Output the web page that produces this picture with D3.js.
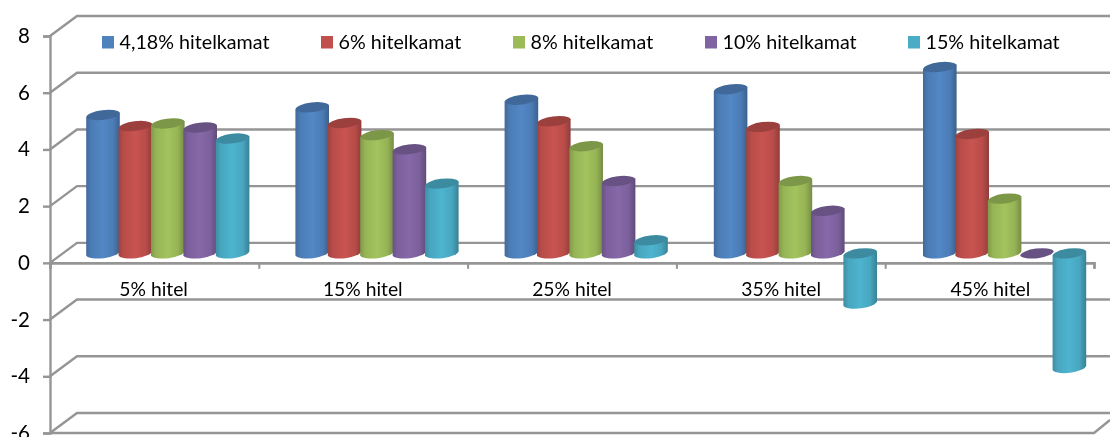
<!DOCTYPE html>
<html><head><meta charset="utf-8">
<script src="https://d3js.org/d3.v7.min.js"></script>
<style>html,body{margin:0;padding:0;background:#fff;overflow:hidden}svg{display:block}text{font-family:Lato,"Open Sans",sans-serif;fill:#000}</style>
</head><body><svg id="c" width="1110" height="437"></svg>
<script>
const categories = ["5% hitel","15% hitel","25% hitel","35% hitel","45% hitel"];
const seriesNames = ["4,18% hitelkamat","6% hitelkamat","8% hitelkamat","10% hitelkamat","15% hitelkamat"];
const s418 = [4.88,5.15,5.42,5.79,6.57];
const s6 = [4.49,4.60,4.66,4.46,4.21];
const s8 = [4.58,4.17,3.78,2.55,1.93];
const s10 = [4.44,3.67,2.55,1.50,-0.05];
const s15 = [4.05,2.46,0.46,-1.77,-4.04];
const seriesValues = [s418,s6,s8,s10,s15];
const yTicks = [-6,-4,-2,0,2,4,6,8];
const baseColors = ["#4f81bd","#c0504d","#9bbb59","#8064a2","#4bacc6"];
const legendX = [102,321,513,705,908];

const svg = d3.select("#c"), gridColor = "#959595";
const y = d3.scaleLinear().domain([-6,8]).range([433,36]);
const x0 = d3.scaleBand().domain(categories).range([50,1096]);
const x1 = d3.scaleBand().domain(seriesNames).range([36.8,198.8]);
const depthX = 27, depthY = -20, midY = -9.5;

const defs = svg.append("defs");
baseColors.forEach((c,i)=>{
  const g = defs.append("linearGradient").attr("id","g"+i);
  const col = d3.color(c);
  [[0,col.darker(0.55)],[0.15,col.darker(0.1)],[0.5,col.brighter(0.12)],[0.8,col.darker(0.1)],[1,col.darker(0.8)]]
   .forEach(([o,k])=>g.append("stop").attr("offset",o).attr("stop-color",k));
});
const blur = defs.append("filter").attr("id","soft").attr("x","-5%").attr("y","-5%").attr("width","110%").attr("height","110%");
blur.append("feGaussianBlur").attr("stdDeviation",0.4);

const root = svg.append("g").attr("filter","url(#soft)");
const grid = root.append("g").attr("fill","none").attr("stroke",gridColor).attr("stroke-width",2.4);
yTicks.forEach(t=>{
  grid.append("path").attr("d",`M50,${y(t)}L${50+depthX},${y(t)+depthY}L1110,${y(t)+depthY}`);
});
grid.append("path").attr("d",`M50,${y(-6)}L1094,${y(-6)}L1110,${y(-6)-13}`);

const yAxis = root.append("g").attr("transform","translate(50,0)")
  .call(d3.axisLeft(y).tickValues(yTicks).tickSize(7).tickPadding(13).tickFormat(d=>String(d)));
yAxis.selectAll("line,path").attr("stroke",gridColor).attr("stroke-width",2.4);
yAxis.selectAll("text").attr("font-size",20.5).style("font-family","Lato").attr("fill","#000");

const xPos = d3.scalePoint().domain(d3.range(6)).range([50,1094]);
const xAxis = root.append("g").attr("transform",`translate(0,${y(0)})`)
  .call(d3.axisBottom(xPos).tickSize(6).tickFormat(""));
xAxis.selectAll("line").attr("stroke",gridColor).attr("stroke-width",2);
xAxis.select("path").attr("stroke",gridColor).attr("stroke-width",2.6);

root.append("g").selectAll("text").data(categories).join("text")
  .attr("x",d=>x0(d)+x0.bandwidth()/2-1).attr("y",296).attr("text-anchor","middle").attr("font-size",19.3).text(d=>d);

const hw = 16.8, rx = 17.1, ry = 5.6, dy = 2.2, rot = -7;
function cyl(cx, topY, botY){
  const l = cx-hw, r = cx+hw;
  return `M${l},${topY+dy}L${l},${botY+dy}A${rx},${ry} ${rot} 0 0 ${r},${botY-dy}L${r},${topY-dy}Z`;
}
function cap(cx, cy){
  const l = cx-hw, r = cx+hw;
  return `M${l},${cy+dy}A${rx},${ry} ${rot} 0 1 ${r},${cy-dy}A${rx},${ry} ${rot} 0 1 ${l},${cy+dy}Z`;
}
const bars = root.append("g");
categories.forEach((cat,ci)=>{
  seriesNames.forEach((name,si)=>{
    const v = seriesValues[si][ci];
    const cx = x0(cat)+x1(name)+x1.bandwidth()/2;
    const top = y(Math.max(v,0))+midY, bot = y(Math.min(v,0))+midY;
    const g = bars.append("g");
    if(Math.abs(v) > 0.1) g.append("path").attr("d",cyl(cx,top,bot)).attr("fill",`url(#g${si})`);
    g.append("path").attr("d",cap(cx,top)).attr("fill",d3.color(baseColors[si]).darker(0.6));
  });
});

const legend = root.append("g").selectAll("g").data(seriesNames).join("g")
  .attr("transform",(d,i)=>`translate(${legendX[i]},36)`);
legend.append("rect").attr("width",12).attr("height",12.5).attr("fill",(d,i)=>baseColors[i]);
legend.append("text").attr("x",17.5).attr("y",13).attr("font-size",19.7).text(d=>d);
</script></body></html>
